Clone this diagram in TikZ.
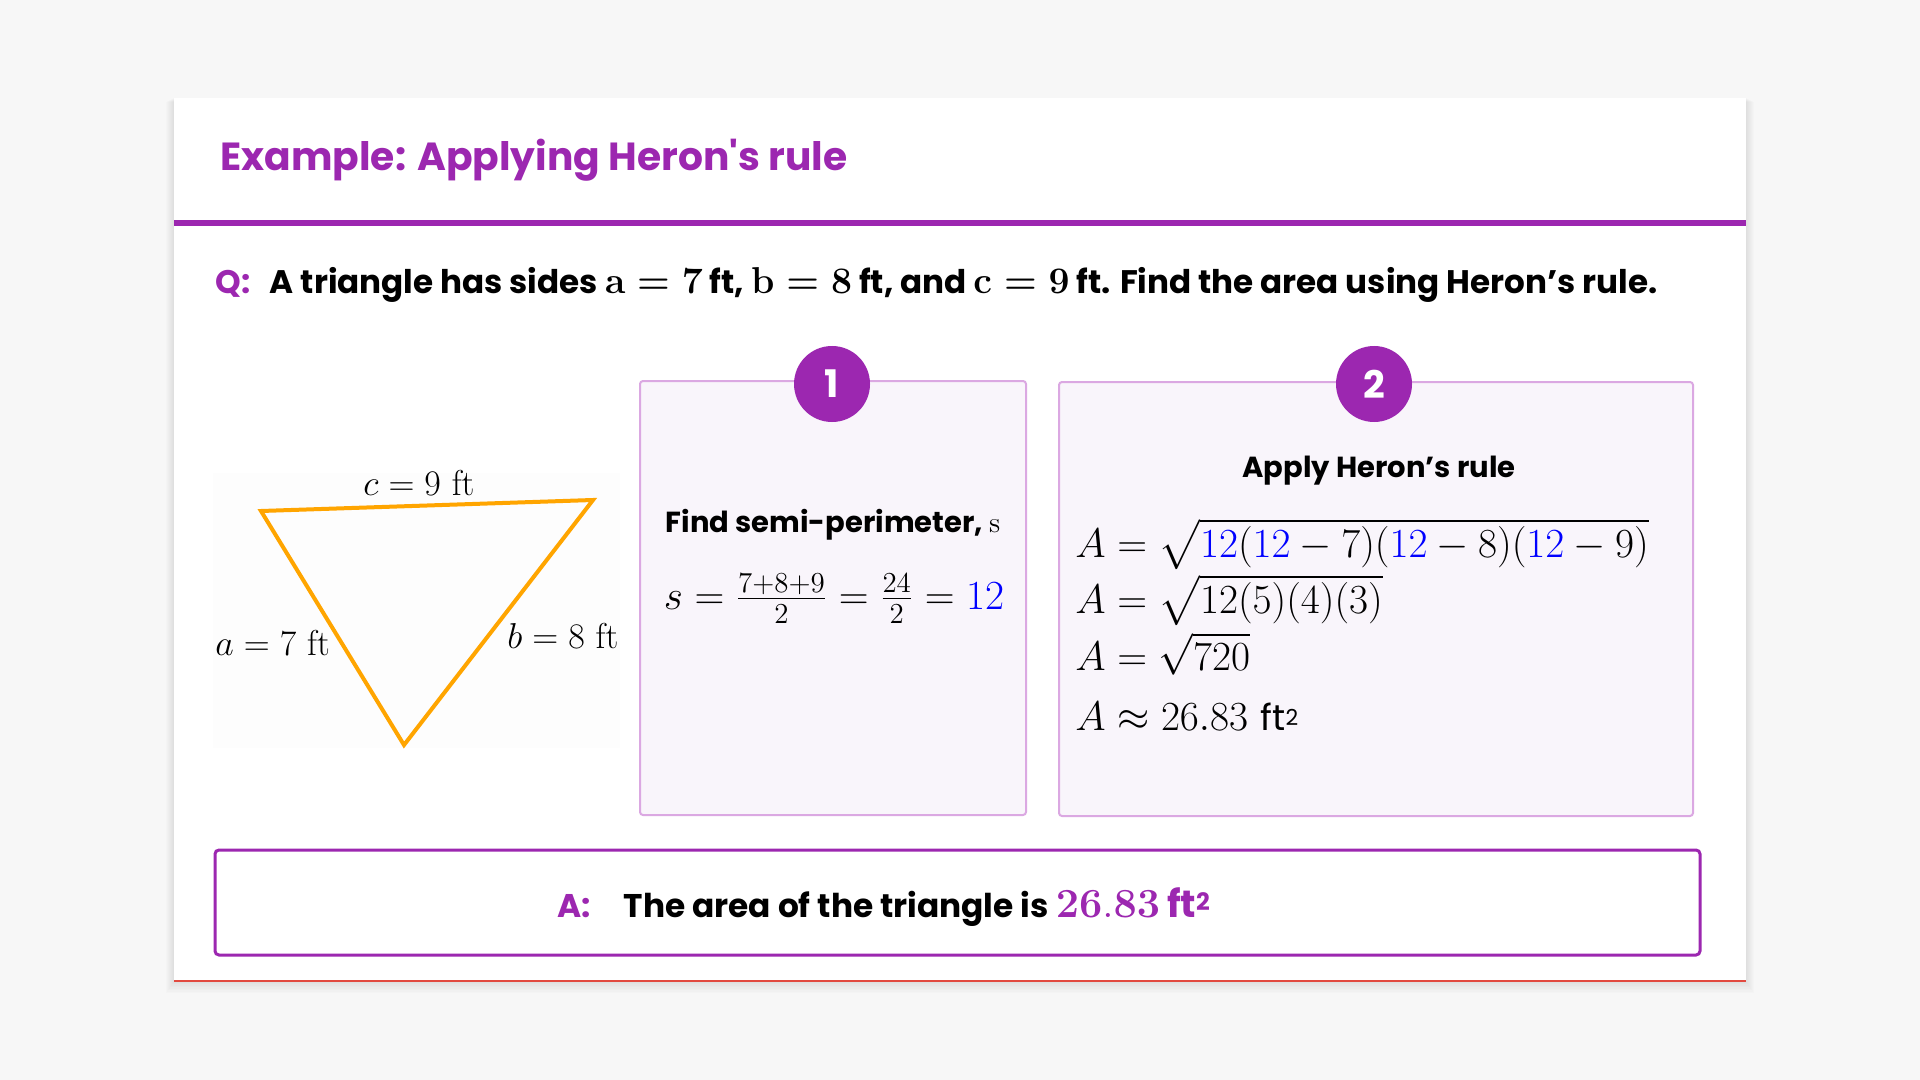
\documentclass[tikz,border=0pt]{standalone}
\usepackage{fix-cm}
\usepackage[no-math]{fontspec}
\usepackage{amsmath}
\newfontfamily\pop{Poppins}
\definecolor{heronpurple}{HTML}{9C27B0}
\definecolor{stepedge}{HTML}{DBA8E2}
\definecolor{stepfill}{HTML}{F9F5FB}
\definecolor{pagegray}{HTML}{F7F7F7}
\definecolor{triorange}{HTML}{FFA500}
\definecolor{edgered}{HTML}{E2493F}
\newcommand{\qmath}[1]{{\fontsize{18.7}{18.7}\selectfont\boldmath$#1$}}
\tikzset{
  stepbox/.style={draw=stepedge, fill=stepfill, line width=1pt, rounded corners=1.5pt},
  stepnum/.style={circle, fill=heronpurple, minimum size=38pt, inner sep=0pt, text=white,
    font=\pop\bfseries\fontsize{19}{19}\selectfont},
  steptitle/.style={anchor=base, inner sep=0pt, font=\pop\bfseries\fontsize{14.5}{14.5}\selectfont},
  side/.style={inner sep=0pt, font=\fontsize{18}{18}\selectfont},
  mathline/.style={anchor=base west, inner sep=0pt, font=\fontsize{20.7}{20.7}\selectfont},
}
\begin{document}
\begin{tikzpicture}[x=0.5pt, y=-0.5pt]
\useasboundingbox (0,0) rectangle (1920,1080);
\fill[pagegray] (0,0) rectangle (1920,1080);

% card and its shadow
\foreach \s in {1,...,8}
  \fill[black, opacity=0.012] (174-\s,98+0.5*\s) rectangle (1746+\s,981+1.5*\s);
\fill[white] (174,98) rectangle (1746,981);
\draw[edgered, line width=0.6pt] (174,981) -- (1746,981);

% heading
\node[anchor=base west, inner sep=0pt, text=heronpurple, font=\pop\bfseries\fontsize{19.6}{19.6}\selectfont] (title) at (220,171) {Example: Applying Heron's rule};
\fill[heronpurple] (174,220) rectangle (1746,226);

% question
\node[anchor=base west, inner sep=0pt, font=\pop\bfseries\fontsize{16.3}{16.3}\selectfont] (question) at (215,294)
  {\textcolor{heronpurple}{Q:}\hspace{0.6em}A triangle has sides \qmath{\mathrm{a}=7} ft, \qmath{\mathrm{b}=8} ft, and \qmath{\mathrm{c}=9} ft. Find the area using Heron’s rule.};

% triangle
\fill[white!99.4!black] (213,473) rectangle (620,748);
\coordinate (P) at (261,511);
\coordinate (Q) at (593,500);
\coordinate (R) at (404,745);
\draw[triorange, line width=2pt] (P) -- (Q) -- (R) -- cycle;
\node[side, anchor=base] (clabel) at (419,495) {$c = 9\ \mathrm{ft}$};
\node[side, anchor=base west] (alabel) at (215,655) {$a = 7\ \mathrm{ft}$};
\node[side, anchor=base west] (blabel) at (507,648) {$b = 8\ \mathrm{ft}$};

% step 1
\draw[stepbox] (640,381) rectangle (1026,815);
\node[stepnum] (one) at (832,384) {1};
\node[steptitle] (findtitle) at (833,532) {Find semi-perimeter, $\mathrm{s}$};
\node[mathline, anchor=base] (sformula) at (834,609) {$s = \frac{7+8+9}{2} = \frac{24}{2} = \textcolor{blue}{12}$};

% step 2
\draw[stepbox] (1059,382) rectangle (1693,816);
\node[stepnum] (two) at (1374,384) {2};
\node[steptitle] (applytitle) at (1379,477) {Apply Heron’s rule};
\node[mathline] (lineone) at (1075,557) {$A = \sqrt{\textcolor{blue}{12}(\textcolor{blue}{12}-7)(\textcolor{blue}{12}-8)(\textcolor{blue}{12}-9)}$};
\node[mathline] (linetwo) at (1075,613) {$A = \sqrt{12(5)(4)(3)}$};
\node[mathline] (linethree) at (1075,670) {$A = \sqrt{720}$};
\node[mathline] (linefour) at (1075,730) {$A \approx 26.83$ {\pop\fontsize{18}{18}\selectfont ft\raisebox{0.25ex}{\fontsize{11}{11}\selectfont 2}}};

% answer
\draw[heronpurple, line width=1.5pt, rounded corners=2pt] (215,850) rectangle (1700,955);
\node[anchor=base west, inner sep=0pt, font=\pop\bfseries\fontsize{16.4}{16.4}\selectfont] (answer) at (557,917)
  {\textcolor{heronpurple}{A:}\hspace{1em}The area of the triangle is \textcolor{heronpurple}{{\fontsize{20.7}{20.7}\selectfont$\mathbf{26.83}$} {\fontsize{19}{19}\selectfont ft\raisebox{0.3ex}{\fontsize{12}{12}\selectfont 2}}}};
\end{tikzpicture}
\end{document}
